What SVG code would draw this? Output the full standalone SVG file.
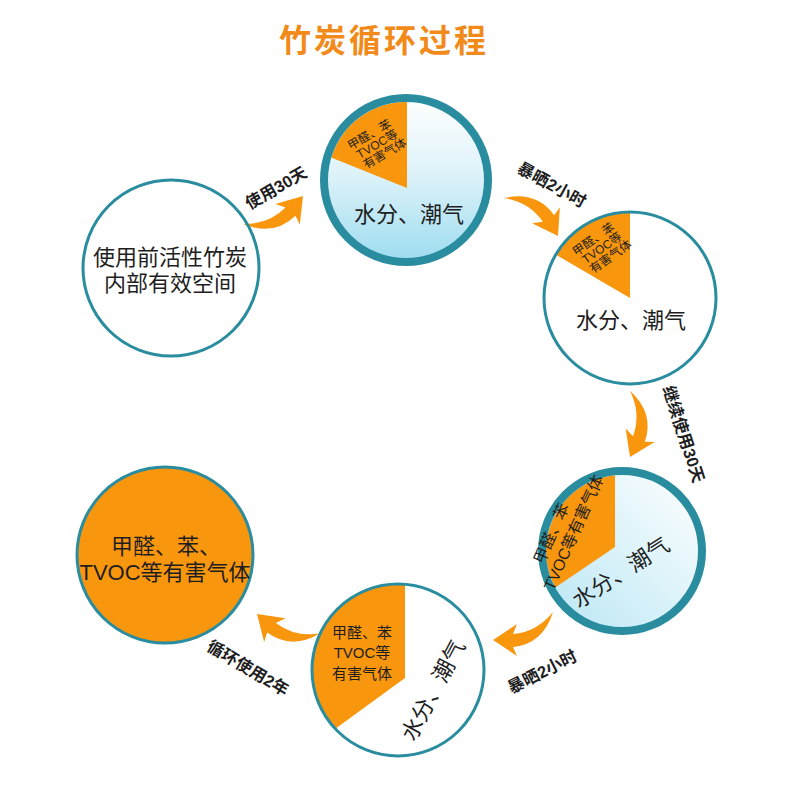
<svg xmlns="http://www.w3.org/2000/svg" width="790" height="786" viewBox="0 0 790 786">
<style>
.t{font-family:"Liberation Sans","Noto Sans CJK SC",sans-serif;fill:#1e1e1e;text-anchor:middle}
.big{font-size:22px}
.sm{font-size:12px}
.md{font-size:15px}
.lbl{font-size:16.5px;font-weight:bold}
.ring{fill:none;stroke:#2a8d9f}
.thin{stroke-width:3}
.thick{stroke-width:8}
.org{fill:#f8960e}
.arrow{fill:#f8960e}
</style>
<defs>
<linearGradient id="blue1" x1="0" y1="0" x2="0" y2="1">
<stop offset="0" stop-color="#ffffff"/>
<stop offset="0.45" stop-color="#dff3fa"/>
<stop offset="1" stop-color="#9ddcef"/>
</linearGradient>
<linearGradient id="blue2" x1="1" y1="0" x2="0" y2="1">
<stop offset="0" stop-color="#ffffff"/>
<stop offset="1" stop-color="#b8e6f4"/>
</linearGradient>
<clipPath id="c2"><circle cx="406" cy="180" r="78"/></clipPath>
<clipPath id="c3"><circle cx="630" cy="298" r="86"/></clipPath>
<clipPath id="c4"><circle cx="622" cy="551" r="76"/></clipPath>
<clipPath id="c5"><circle cx="398" cy="670" r="86"/></clipPath>
<path id="arw" d="M0 0 L-24 -16 L-20 -6 Q-44 -8 -60 -28 Q-50 4 -20 7 L-24 16 Z"/>
</defs>

<text x="384" y="52" style="font-family:'Noto Sans CJK SC',sans-serif;font-size:32px;font-weight:bold;fill:#f28a1a;text-anchor:middle;letter-spacing:3px">竹炭循环过程</text>

<g id="connectors">
<use href="#arw" class="arrow" transform="translate(303,196) rotate(-50)"/>
<use href="#arw" class="arrow" transform="translate(558,236) rotate(60) scale(1,-1)"/>
<use href="#arw" class="arrow" transform="translate(630,457) rotate(115) scale(1,-1)"/>
<use href="#arw" class="arrow" transform="translate(493,640) rotate(180) scale(1,-1)"/>
<use href="#arw" class="arrow" transform="translate(257,614) rotate(222) scale(1,-1)"/>
<text class="t lbl" transform="translate(279,193) rotate(-30)">使用30天</text>
<text class="t lbl" transform="translate(549,190) rotate(29)">暴晒2小时</text>
<text class="t lbl" transform="translate(678,436) rotate(72)">继续使用30天</text>
<text class="t lbl" transform="translate(545,677) rotate(-27)">暴晒2小时</text>
<text class="t lbl" transform="translate(245,673) rotate(31)">循环使用2年</text>
</g>

<g id="node1">
<circle cx="171" cy="268" r="88" fill="#fff" class="ring thin"/>
<text class="t big" x="170" y="265">使用前活性竹炭</text>
<text class="t big" x="170" y="291">内部有效空间</text>
</g>

<g id="node2">
<circle cx="406" cy="180" r="82" fill="url(#blue1)"/>
<polygon class="org" clip-path="url(#c2)" points="407,188 407,60 260,60 260,129"/>
<circle cx="406" cy="180" r="82" class="ring thick"/>
<g transform="translate(376,146) rotate(-30)">
<text class="t sm" x="0" y="-9">甲醛、苯</text>
<text class="t sm" x="2" y="3">TVOC等</text>
<text class="t sm" x="4" y="15">有害气体</text>
</g>
<text class="t big" x="409" y="222">水分、潮气</text>
</g>

<g id="node3">
<circle cx="630" cy="298" r="86" fill="#fff"/>
<polygon class="org" clip-path="url(#c3)" points="630,298 630,170 505,225"/>
<circle cx="630" cy="298" r="86" class="ring thin"/>
<g transform="translate(601,250) rotate(-35)">
<text class="t sm" x="0" y="-9">甲醛、苯</text>
<text class="t sm" x="2" y="3">TVOC等</text>
<text class="t sm" x="4" y="15">有害气体</text>
</g>
<text class="t big" x="631" y="328">水分、潮气</text>
</g>

<g id="node4">
<circle cx="622" cy="551" r="80" fill="url(#blue2)"/>
<polygon class="org" clip-path="url(#c4)" points="615,547 615,420 480,420 480,631 491,631"/>
<circle cx="622" cy="551" r="80" class="ring thick"/>
<g transform="translate(566,529) rotate(-66)">
<text class="t" x="-10" y="-6" style="font-size:16px">甲醛、苯</text>
<text class="t" x="0" y="14" style="font-size:16px">TVOC等有害气体</text>
</g>
<text class="t big" transform="translate(625,579) rotate(-33)">水分、潮气</text>
</g>

<g id="node5">
<circle cx="398" cy="670" r="86" fill="#fff"/>
<polygon class="org" clip-path="url(#c5)" points="405,678 405,560 280,560 280,766 284,766"/>
<circle cx="398" cy="670" r="86" class="ring thin"/>
<text class="t md" x="362" y="638">甲醛、苯</text>
<text class="t md" x="362" y="658">TVOC等</text>
<text class="t md" x="362" y="679">有害气体</text>
<text class="t big" transform="translate(440,694) rotate(-62)">水分、潮气</text>
</g>

<g id="node6">
<circle cx="165" cy="555" r="88" class="org"/>
<circle cx="165" cy="555" r="88" class="ring thin"/>
<text class="t big" x="166" y="554">甲醛、苯、</text>
<text class="t big" x="165" y="580">TVOC等有害气体</text>
</g>
</svg>
